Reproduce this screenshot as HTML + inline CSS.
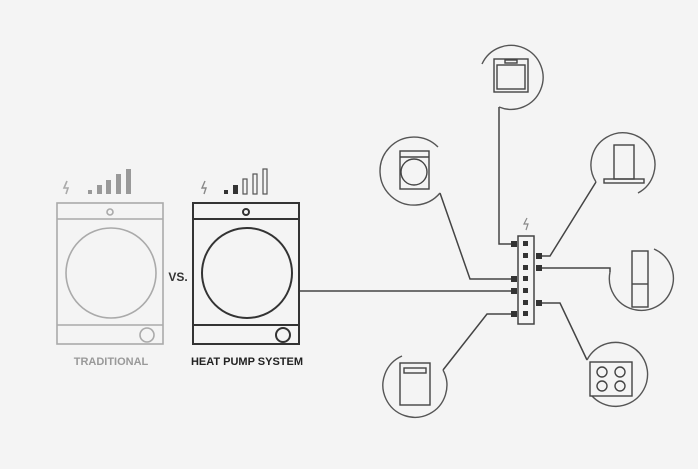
<!DOCTYPE html><html><head><style>body{margin:0;background:#f4f4f4}svg{display:block}text{font-family:"Liberation Sans",sans-serif;font-weight:bold}</style></head><body>
<svg width="698" height="469" viewBox="0 0 698 469" fill="none">
<rect width="698" height="469" fill="#f4f4f4"/>
<g stroke="#aaa" stroke-width="1.6">
<rect x="57" y="203" width="106" height="141"/><line x1="57" y1="219" x2="163" y2="219"/><line x1="57" y1="325" x2="163" y2="325"/>
<circle cx="111" cy="273" r="45"/><circle cx="110" cy="212" r="3"/><circle cx="147" cy="335" r="7"/>
<path d="M67 181l-3 7h4l-2 6" /></g>
<g fill="#999"><rect x="88" y="190" width="4" height="4"/><rect x="97" y="185" width="5" height="9"/><rect x="106" y="180" width="5" height="14"/><rect x="116" y="174" width="5" height="20"/><rect x="126" y="169" width="5" height="25"/></g>
<text x="111" y="365" font-size="11" fill="#999" text-anchor="middle">TRADITIONAL</text>
<text x="178" y="281" font-size="12" fill="#333" text-anchor="middle">VS.</text>
<g stroke="#333" stroke-width="2">
<rect x="193" y="203" width="106" height="141"/><line x1="193" y1="219" x2="299" y2="219"/><line x1="193" y1="325" x2="299" y2="325"/>
<circle cx="247" cy="273" r="45"/><circle cx="246" cy="212" r="3"/><circle cx="283" cy="335" r="7"/></g>
<path d="M205 181l-3 7h4l-2 6" stroke="#888" stroke-width="1.4"/>
<g fill="#333"><rect x="224" y="190" width="4" height="4"/><rect x="233" y="185" width="5" height="9"/></g>
<g stroke="#555" stroke-width="1.2"><rect x="243" y="179" width="4" height="15"/><rect x="253" y="174" width="4" height="20"/><rect x="263" y="169" width="4" height="25"/></g>
<text x="247" y="365" font-size="11" fill="#222" text-anchor="middle">HEAT PUMP SYSTEM</text>
<g stroke="#444" stroke-width="1.5">
<line x1="300" y1="291" x2="514" y2="291"/>
<polyline points="499,107 499,244 514,244"/>
<polyline points="440,193 470,279 514,279"/>
<polyline points="596,182 550,256 540,256"/>
<polyline points="540,268 610,268 610,272"/>
<polyline points="540,303 560,303 587,360"/>
<polyline points="514,314 487,314 443,370"/>
</g>
<rect x="518" y="236" width="16" height="88" stroke="#444" stroke-width="1.5" fill="#f4f4f4"/>
<g fill="#333">
<rect x="523" y="241" width="5" height="5"/><rect x="523" y="253" width="5" height="5"/><rect x="523" y="265" width="5" height="5"/><rect x="523" y="276" width="5" height="5"/><rect x="523" y="288" width="5" height="5"/><rect x="523" y="300" width="5" height="5"/><rect x="523" y="311" width="5" height="5"/>
<rect x="511" y="241" width="6" height="6"/><rect x="511" y="276" width="6" height="6"/><rect x="511" y="288" width="6" height="6"/><rect x="511" y="311" width="6" height="6"/>
<rect x="536" y="253" width="6" height="6"/><rect x="536" y="265" width="6" height="6"/><rect x="536" y="300" width="6" height="6"/></g>
<path d="M527 218l-3 6h4l-2 6" stroke="#888" stroke-width="1.2"/>
<g stroke="#555" stroke-width="1.4">
<path d="M482 64 A32 32 0 1 1 499 107"/>
<path d="M438 147 A34 34 0 1 0 440 193"/>
<path d="M638 193 A32 32 0 1 0 596 182"/>
<path d="M654 249 A32 32 0 1 1 610 272"/>
<path d="M587 360 A32 32 0 1 1 592 396"/>
<path d="M443 370 A32 32 0 1 1 402 356"/>
</g>
<g stroke="#444" stroke-width="1.4">
<rect x="494" y="59" width="34" height="33"/><rect x="497" y="65" width="28" height="24"/><rect x="505" y="60" width="12" height="3"/>
<rect x="400" y="151" width="29" height="38"/><line x1="400" y1="157" x2="429" y2="157"/><circle cx="414" cy="172" r="13"/>
<rect x="614" y="145" width="20" height="34"/><rect x="604" y="179" width="40" height="4"/>
<rect x="632" y="251" width="16" height="56"/><line x1="632" y1="284" x2="648" y2="284"/>
<rect x="590" y="362" width="42" height="34"/><circle cx="602" cy="372" r="5"/><circle cx="620" cy="372" r="5"/><circle cx="602" cy="386" r="5"/><circle cx="620" cy="386" r="5"/>
<rect x="400" y="363" width="30" height="42"/><rect x="404" y="368" width="22" height="5"/>
</g>
</svg></body></html>
